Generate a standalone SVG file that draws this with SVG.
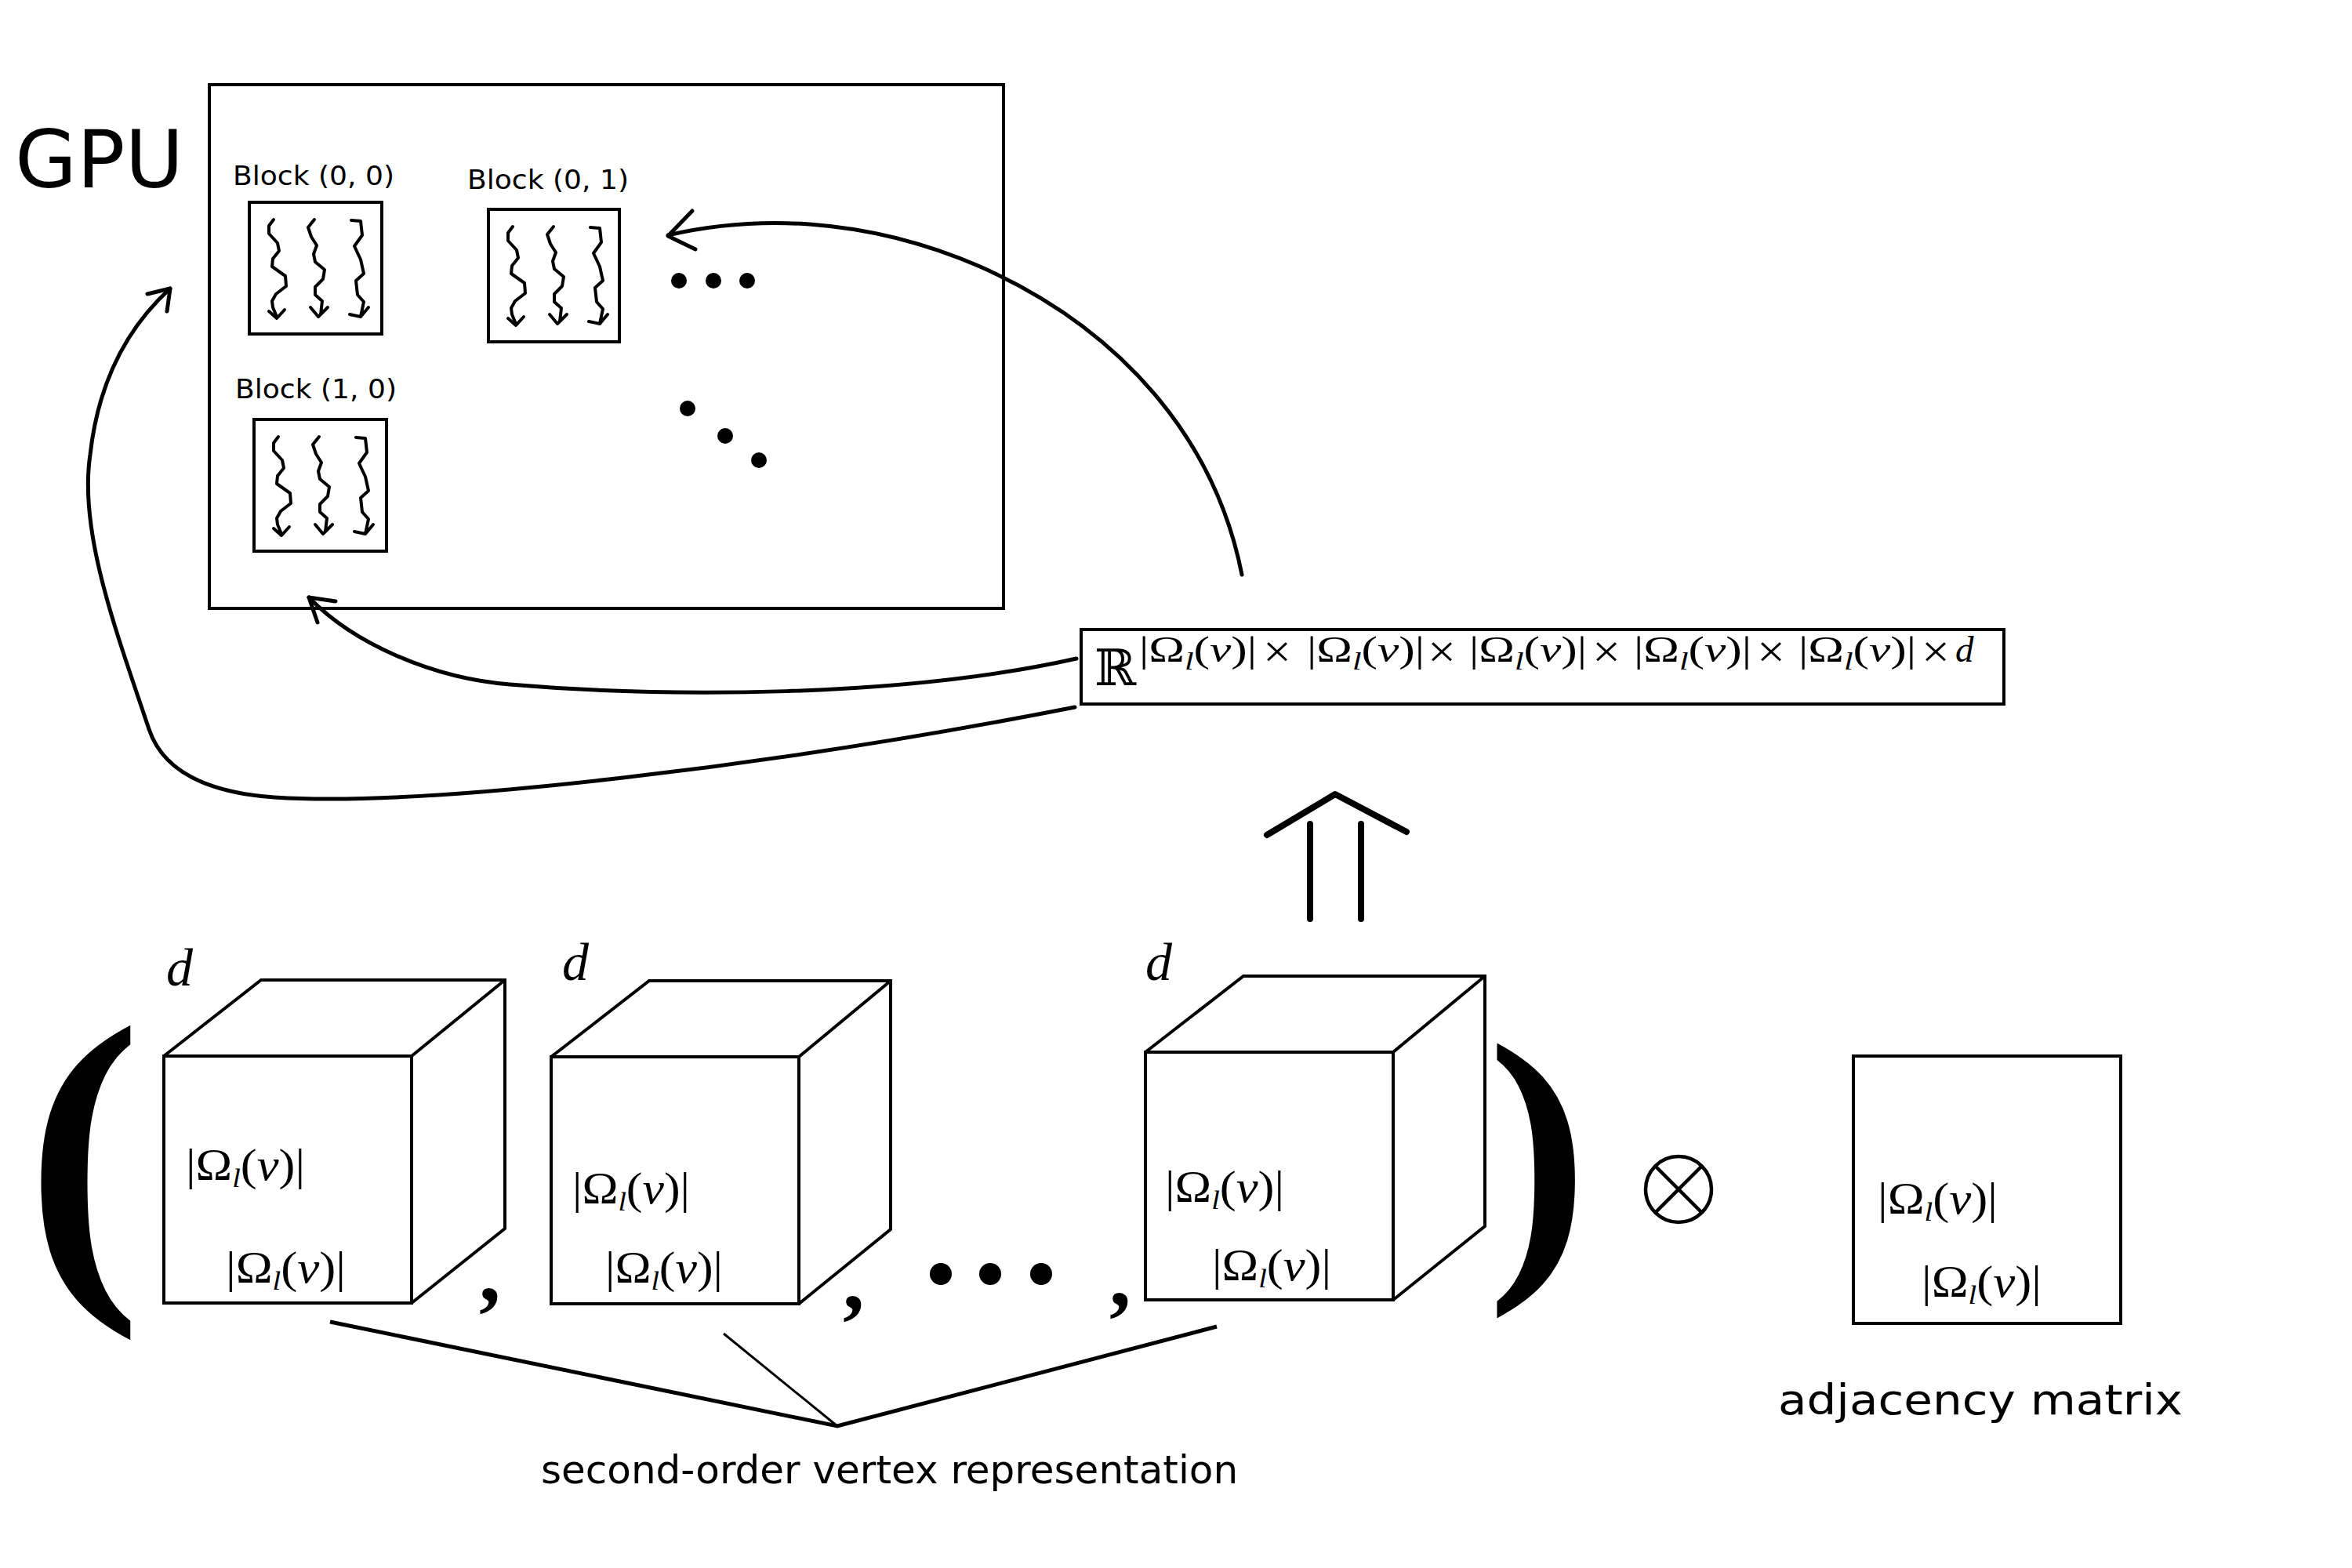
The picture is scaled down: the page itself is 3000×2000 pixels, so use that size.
<svg xmlns="http://www.w3.org/2000/svg" width="3000" height="2000" viewBox="0 0 3000 2000">
<style>
.ln{fill:none;stroke:#000;stroke-width:4}
.cv{fill:none;stroke:#000;stroke-width:5;stroke-linecap:round;stroke-linejoin:round}
.sq{fill:none;stroke:#000;stroke-width:4;stroke-linejoin:round;stroke-linecap:round}
.sans{font-family:"DejaVu Sans",Verdana,sans-serif;fill:#000}
.m{font-family:"Liberation Serif","Times New Roman",serif;fill:#000}
.it{font-style:italic}
.dot{fill:#000}
</style>
<defs>
<g id="threads">
<path class="sq" d="M31,22 L25,30 L25,40 L36,52 L38,62 L30,72 L29,82 L46,94 L47,107 L34,117 L29,126 L30,134 L35,146 M25,139 L35,148 L45,137"/>
<path class="sq" d="M83,22 L75,32 L79,44 L86,55 L82,66 L84,76 L96,86 L94,98 L84,108 L84,118 L93,126 L91,143 M78,134 L88,146 L100,134"/>
<path class="sq" d="M130,23 L142,24 L144,42 L134,56 L142,73 L146,91 L136,100 L138,118 L146,127 L142,146 M128,143 L142,146 L152,134"/>
</g>
</defs>
<rect width="3000" height="2000" fill="#fff"/>

<g id="gpu">
<text class="sans" x="19" y="239" font-size="102">GPU</text>
<rect class="ln" x="267" y="108" width="1013" height="668"/>
</g>

<g id="block00">
<text class="sans" x="297" y="236" font-size="34" textLength="206" lengthAdjust="spacingAndGlyphs">Block (0, 0)</text>
<rect class="ln" x="318" y="258" width="169" height="168"/>
<use href="#threads" x="318" y="258"/>
</g>
<g id="block01">
<text class="sans" x="596" y="241" font-size="34" textLength="206" lengthAdjust="spacingAndGlyphs">Block (0, 1)</text>
<rect class="ln" x="623" y="267" width="167" height="169"/>
<use href="#threads" x="623" y="267"/>
</g>
<g id="block10">
<text class="sans" x="300" y="508" font-size="34" textLength="206" lengthAdjust="spacingAndGlyphs">Block (1, 0)</text>
<rect class="ln" x="324" y="535" width="169" height="168"/>
<use href="#threads" x="324" y="535"/>
</g>
<g id="gpu-dots">
<circle class="dot" cx="866" cy="358" r="10"/>
<circle class="dot" cx="910" cy="358" r="10"/>
<circle class="dot" cx="953" cy="358" r="10"/>
<circle class="dot" cx="877" cy="521" r="10"/>
<circle class="dot" cx="925" cy="556" r="10"/>
<circle class="dot" cx="968" cy="587" r="10"/>
</g>

<g id="dims">
<rect class="ln" x="1379" y="803" width="1177" height="95"/>
<text x="1396" y="874" font-family="DejaVu Serif,DejaVu Sans,serif" font-size="64">ℝ</text>
<text class="m" x="1453" y="844" font-size="47" textLength="150" lengthAdjust="spacingAndGlyphs">|Ω<tspan class="it" font-size="32" dy="10">l</tspan><tspan dy="-10">(</tspan><tspan class="it">v</tspan>)|</text>
<text class="m" x="1611" y="851" font-size="60" textLength="36" lengthAdjust="spacingAndGlyphs">×</text>
<text class="m" x="1667" y="844" font-size="47" textLength="150" lengthAdjust="spacingAndGlyphs">|Ω<tspan class="it" font-size="32" dy="10">l</tspan><tspan dy="-10">(</tspan><tspan class="it">v</tspan>)|</text>
<text class="m" x="1821" y="851" font-size="60" textLength="36" lengthAdjust="spacingAndGlyphs">×</text>
<text class="m" x="1874" y="844" font-size="47" textLength="150" lengthAdjust="spacingAndGlyphs">|Ω<tspan class="it" font-size="32" dy="10">l</tspan><tspan dy="-10">(</tspan><tspan class="it">v</tspan>)|</text>
<text class="m" x="2031" y="851" font-size="60" textLength="36" lengthAdjust="spacingAndGlyphs">×</text>
<text class="m" x="2084" y="844" font-size="47" textLength="150" lengthAdjust="spacingAndGlyphs">|Ω<tspan class="it" font-size="32" dy="10">l</tspan><tspan dy="-10">(</tspan><tspan class="it">v</tspan>)|</text>
<text class="m" x="2241" y="851" font-size="60" textLength="36" lengthAdjust="spacingAndGlyphs">×</text>
<text class="m" x="2294" y="844" font-size="47" textLength="150" lengthAdjust="spacingAndGlyphs">|Ω<tspan class="it" font-size="32" dy="10">l</tspan><tspan dy="-10">(</tspan><tspan class="it">v</tspan>)|</text>
<text class="m" x="2451" y="851" font-size="60" textLength="36" lengthAdjust="spacingAndGlyphs">×</text>
<text class="m it" x="2494" y="844" font-size="47">d</text>
</g>

<g id="implies">
<path d="M1616,1065 L1703,1013 L1794,1061" fill="none" stroke="#000" stroke-width="8" stroke-linecap="round" stroke-linejoin="round"/>
<path d="M1671,1051 L1671,1172 M1736,1051 L1736,1172" fill="none" stroke="#000" stroke-width="8" stroke-linecap="round"/>
</g>

<g id="parens">
<text x="33" y="1615" font-family="Liberation Serif,Times New Roman,serif" font-weight="bold" font-size="443">(</text>
<text x="1897" y="1599" font-family="Liberation Serif,Times New Roman,serif" font-weight="bold" font-size="387">)</text>
</g>

<g id="cube1">
<path class="ln" d="M209,1347 L333,1250 L644,1250 L644,1567 L525,1662 M525,1347 L644,1250"/>
<rect class="ln" x="209" y="1347" width="316" height="315"/>
<text class="m it" x="212" y="1257" font-size="68">d</text>
<text class="m" x="237" y="1505" font-size="56" textLength="152" lengthAdjust="spacingAndGlyphs">|Ω<tspan class="it" font-size="34" dy="9">l</tspan><tspan dy="-9">(</tspan><tspan class="it">v</tspan>)|</text>
<text class="m" x="288" y="1636" font-size="56" textLength="153" lengthAdjust="spacingAndGlyphs">|Ω<tspan class="it" font-size="34" dy="9">l</tspan><tspan dy="-9">(</tspan><tspan class="it">v</tspan>)|</text>
</g>
<text class="m" x="611" y="1659" font-size="110" font-weight="bold">,</text>

<g id="cube2">
<path class="ln" d="M703,1348 L828,1251 L1136,1251 L1136,1568 L1019,1663 M1019,1348 L1136,1251"/>
<rect class="ln" x="703" y="1348" width="316" height="315"/>
<text class="m it" x="717" y="1250" font-size="68">d</text>
<text class="m" x="730" y="1535" font-size="56" textLength="150" lengthAdjust="spacingAndGlyphs">|Ω<tspan class="it" font-size="34" dy="9">l</tspan><tspan dy="-9">(</tspan><tspan class="it">v</tspan>)|</text>
<text class="m" x="772" y="1636" font-size="56" textLength="150" lengthAdjust="spacingAndGlyphs">|Ω<tspan class="it" font-size="34" dy="9">l</tspan><tspan dy="-9">(</tspan><tspan class="it">v</tspan>)|</text>
</g>
<text class="m" x="1075" y="1669" font-size="110" font-weight="bold">,</text>
<g id="ellipsis">
<circle class="dot" cx="1200" cy="1625" r="14"/>
<circle class="dot" cx="1263" cy="1625" r="14"/>
<circle class="dot" cx="1328" cy="1625" r="14"/>
</g>
<text class="m" x="1415" y="1665" font-size="110" font-weight="bold">,</text>

<g id="cube3">
<path class="ln" d="M1461,1342 L1586,1245 L1894,1245 L1894,1564 L1777,1658 M1777,1342 L1894,1245"/>
<rect class="ln" x="1461" y="1342" width="316" height="316"/>
<text class="m it" x="1461" y="1250" font-size="68">d</text>
<text class="m" x="1486" y="1533" font-size="56" textLength="152" lengthAdjust="spacingAndGlyphs">|Ω<tspan class="it" font-size="34" dy="9">l</tspan><tspan dy="-9">(</tspan><tspan class="it">v</tspan>)|</text>
<text class="m" x="1546" y="1633" font-size="56" textLength="152" lengthAdjust="spacingAndGlyphs">|Ω<tspan class="it" font-size="34" dy="9">l</tspan><tspan dy="-9">(</tspan><tspan class="it">v</tspan>)|</text>
</g>

<g id="otimes">
<circle cx="2141" cy="1517" r="42" fill="none" stroke="#000" stroke-width="4.5"/>
<path d="M2111,1487 L2171,1547 M2171,1487 L2111,1547" stroke="#000" stroke-width="4.5"/>
</g>

<g id="adj">
<rect class="ln" x="2364" y="1347" width="341" height="341" stroke-width="4.5"/>
<text class="m" x="2395" y="1548" font-size="56" textLength="153" lengthAdjust="spacingAndGlyphs">|Ω<tspan class="it" font-size="34" dy="9">l</tspan><tspan dy="-9">(</tspan><tspan class="it">v</tspan>)|</text>
<text class="m" x="2451" y="1654" font-size="56" textLength="153" lengthAdjust="spacingAndGlyphs">|Ω<tspan class="it" font-size="34" dy="9">l</tspan><tspan dy="-9">(</tspan><tspan class="it">v</tspan>)|</text>
<text class="sans" x="2268" y="1804" font-size="53" textLength="516" lengthAdjust="spacingAndGlyphs">adjacency matrix</text>
</g>

<g id="label-sovr">
<text class="sans" x="690" y="1892" font-size="50">second-order vertex representation</text>
</g>

<g id="connectors">
<path class="cv" d="M1584,733 C1550,560 1430,420 1250,340 C1100,275 960,275 852,300"/>
<path class="cv" d="M883,269 L852,301 L887,318"/>
<path class="cv" d="M1373,840 C1150,890 850,890 650,873 C550,865 450,820 394,762"/>
<path class="cv" d="M428,767 L394,762 L405,794"/>
<path class="cv" d="M1371,902 C1000,975 550,1030 350,1017 C250,1010 205,975 190,930 C150,810 100,680 115,580 C125,490 160,420 217,368"/>
<path class="cv" d="M188,375 L217,368 L213,397"/>
<path d="M421,1686 L1068,1819 L1552,1692" fill="none" stroke="#000" stroke-width="5"/>
<path d="M923,1701 L1068,1819" fill="none" stroke="#000" stroke-width="3"/>
</g>
</svg>
